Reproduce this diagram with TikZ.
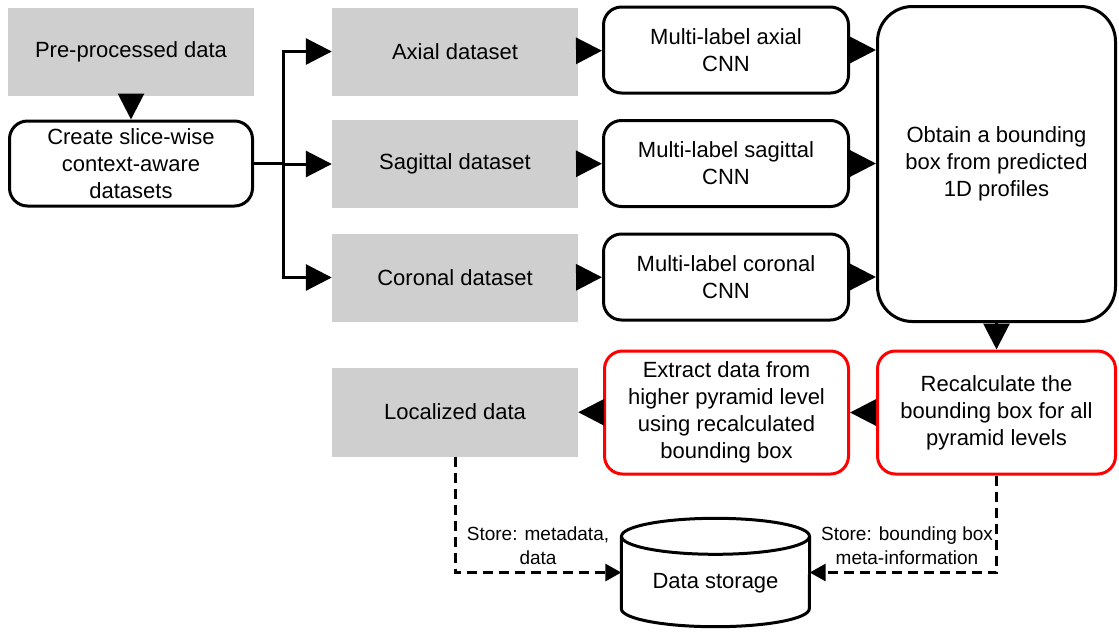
\documentclass[tikz,border=0pt]{standalone}
\usepackage{fontspec}
\setmainfont{Liberation Sans}
\usetikzlibrary{arrows.meta,calc}
\definecolor{DataGray}{HTML}{CFCFCF}
\definecolor{StepRed}{HTML}{FF0000}

\begin{document}
\begin{tikzpicture}[x=1pt,y=-1pt,
    font=\fontsize{22}{27}\selectfont,
    databox/.style={fill=DataGray,minimum width=246pt,minimum height=88pt,inner sep=0pt,align=center},
    stepbox/.style={draw,line width=3pt,rounded corners=18pt,minimum width=243pt,minimum height=85pt,inner sep=0pt,align=center},
    redbox/.style={stepbox,draw=StepRed,minimum height=123pt},
    link/.style={line width=3pt,-{Triangle[length=26pt,width=26pt]}},
    store/.style={line width=3pt,dash pattern=on 10pt off 6pt,-{Triangle[length=16pt,width=17pt]}},
    note/.style={font=\fontsize{19}{24}\selectfont,align=center,inner sep=0pt}]
    \useasboundingbox (0,0) rectangle (1119,633);

    \node[databox] (pre) at (131,51.5) {Pre-processed data};
    \node[stepbox] (create) at (131,163.5) {Create slice-wise\\context-aware\\datasets};

    \node[databox] (axial) at (455,51.5) {Axial dataset};
    \node[databox] (sagittal) at (455,164) {Sagittal dataset};
    \node[databox] (coronal) at (455,277.5) {Coronal dataset};

    \node[stepbox,minimum width=245pt,minimum height=86pt] (cnnax) at (726,50) {Multi-label axial\\CNN};
    \node[stepbox,minimum width=245pt,minimum height=86pt] (cnnsag) at (726,163.5) {Multi-label sagittal\\CNN};
    \node[stepbox,minimum width=245pt,minimum height=86pt] (cnncor) at (726,277) {Multi-label coronal\\CNN};

    \node[stepbox,rounded corners=35pt,minimum width=238pt,minimum height=315pt] (obtain) at (996.5,164) {Obtain a bounding\\box from predicted\\1D profiles};

    \node[redbox,minimum width=238pt] (recalc) at (996.5,412.5) {Recalculate the\\bounding box for all\\pyramid levels};
    \node[redbox,minimum width=244pt] (extract) at (726.5,412.5) {Extract data from\\higher pyramid level\\using recalculated\\bounding box};
    \node[databox,minimum height=89pt] (localized) at (455,412) {Localized data};

    \node[inner sep=0pt,minimum width=188pt,minimum height=108pt] (storage) at (715.5,572.5) {};
    \draw[line width=3pt] ($(storage.north)+(0,18)$) ellipse [x radius=94pt,y radius=18pt];
    \draw[line width=3pt] ($(storage.north west)+(0,18)$) -- ($(storage.south west)+(0,-18)$)
        arc[start angle=180,end angle=360,x radius=94pt,y radius=18pt] -- ($(storage.north east)+(0,18)$);
    \node (storagetxt) at ($(storage.center)+(0,11)$) {Data storage};

    \node[note] (notedata) at (538,546) {Store: metadata,\\data};
    \node[note] (notebox) at (907,546) {Store: bounding box\\meta-information};

    \draw[link] (pre) -- (create);
    \draw[link] (create.east) -- ++(29.5,0) |- (axial.west);
    \draw[link] (create.east) -- ++(29.5,0) |- (sagittal.west);
    \draw[link] (create.east) -- ++(29.5,0) |- (coronal.west);
    \draw[link] (axial) -- (cnnax);
    \draw[link] (sagittal) -- (cnnsag);
    \draw[link] (coronal) -- (cnncor);
    \draw[link] (cnnax.east) -- (cnnax.east -| obtain.west);
    \draw[link] (cnnsag.east) -- (cnnsag.east -| obtain.west);
    \draw[link] (cnncor.east) -- (cnncor.east -| obtain.west);
    \draw[link] (obtain) -- (recalc);
    \draw[link] (recalc) -- (extract);
    \draw[link] (extract) -- (localized);
    \draw[store] (localized.south) |- (storage.west);
    \draw[store] (recalc.south) |- (storage.east);
\end{tikzpicture}
\end{document}
